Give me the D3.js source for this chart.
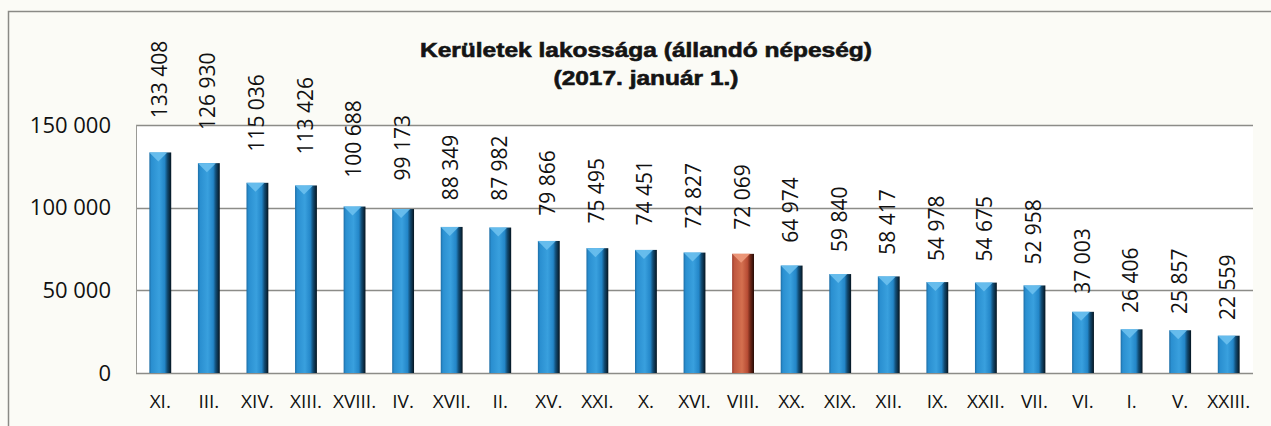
<!DOCTYPE html>
<html>
<head>
<meta charset="utf-8">
<script src="https://cdn.jsdelivr.net/npm/d3@7"></script>
<style>
  html, body { margin: 0; padding: 0; background: #fbfbf6; }
  svg { display: block; }
</style>
</head>
<body>
<svg id="chart" width="1271" height="426"></svg>
<script>
const categories = ["XI.","III.","XIV.","XIII.","XVIII.","IV.","XVII.","II.","XV.","XXI.","X.","XVI.","VIII.","XX.","XIX.","XII.","IX.","XXII.","VII.","VI.","I.","V.","XXIII."];
const values = [133408,126930,115036,113426,100688,99173,88349,87982,79866,75495,74451,72827,72069,64974,59840,58417,54978,54675,52958,37003,26406,25857,22559];
const highlighted = ["VIII."];
const yTicks = [0, 50000, 100000, 150000];
const titleLines = ["Kerületek lakossága (állandó népeség)", "(2017. január 1.)"];

const data = categories.map((c, i) => ({ cat: c, value: values[i] }));

const svg = d3.select("#chart");
const W = 1271, H = 426;
const plot = { left: 136, right: 1253, top: 125, bottom: 373 };

// page background & frame
svg.append("rect").attr("x", 0).attr("y", 0).attr("width", W).attr("height", H).attr("fill", "#fbfbf6");
svg.append("path")
  .attr("d", `M8.5,${H} L8.5,11.5 L${W},11.5`)
  .attr("fill", "none").attr("stroke", "#8a8a86").attr("stroke-width", 1.5);

// plot area
svg.append("rect")
  .attr("x", plot.left).attr("y", plot.top)
  .attr("width", plot.right - plot.left).attr("height", plot.bottom - plot.top)
  .attr("fill", "#ffffff");

const x = d3.scaleBand().domain(categories).range([plot.left, plot.right]).paddingInner(0.55).paddingOuter(0.275);
const y = d3.scaleLinear().domain([0, 150000]).range([plot.bottom, plot.top]);
// labels sit above the bars on a slightly stretched (3D-like) scale
const yLabel = d3.scaleLinear().domain([0, 150000]).range([plot.bottom - 12, plot.top - 37]);

const fmt = v => d3.format(",")(v).replace(/,/g, " ");

// gradients
const defs = svg.append("defs");
function grad(id, stops) {
  const g = defs.append("linearGradient").attr("id", id).attr("x1", "0%").attr("x2", "100%").attr("y1", "0%").attr("y2", "0%");
  stops.forEach(s => g.append("stop").attr("offset", s[0]).attr("stop-color", s[1]));
}
grad("gBlue", [["0%", "#1c6da6"], ["10%", "#2a8fd0"], ["45%", "#39a0de"], ["70%", "#2386c8"], ["82%", "#124c74"], ["100%", "#05141f"]]);
grad("gRed", [["0%", "#9c3a2a"], ["10%", "#c05840"], ["45%", "#d4704f"], ["70%", "#b84d35"], ["82%", "#742a1a"], ["100%", "#240a05"]]);

// gridlines
svg.append("g").selectAll("line").data(yTicks).join("line")
  .attr("x1", plot.left).attr("x2", plot.right)
  .attr("y1", d => Math.round(y(d)) + 0.5).attr("y2", d => Math.round(y(d)) + 0.5)
  .attr("stroke", "#8c8c88").attr("stroke-width", 1.5);
// left axis line
svg.append("line").attr("x1", plot.left + 0.5).attr("x2", plot.left + 0.5)
  .attr("y1", plot.top).attr("y2", plot.bottom)
  .attr("stroke", "#9a9a96").attr("stroke-width", 1);

// bars
const bars = svg.append("g").selectAll("g").data(data).join("g");
bars.append("rect")
  .attr("x", d => x(d.cat)).attr("y", d => y(d.value))
  .attr("width", x.bandwidth()).attr("height", d => y(0) - y(d.value))
  .attr("fill", d => highlighted.includes(d.cat) ? "url(#gRed)" : "url(#gBlue)");
bars.append("path")
  .attr("d", d => {
    const x0 = x(d.cat), w = x.bandwidth(), t = y(d.value);
    return `M${x0},${t} L${x0 + 0.82 * w},${t} L${x0 + 0.41 * w},${t + 9} Z`;
  })
  .attr("fill", d => highlighted.includes(d.cat) ? "#ee9a7c" : "#6cc0ee")
  .attr("opacity", 0.9);

// value labels
svg.append("g").selectAll("text").data(data).join("text")
  .attr("transform", d => `translate(${x(d.cat) + x.bandwidth() / 2 - 1},${yLabel(d.value)}) rotate(-90)`)
  .attr("dy", "0.36em")
  .attr("text-anchor", "start")
  .attr("font-family", "'Open Sans', sans-serif")
  .attr("font-size", 21)
  .attr("fill", "#111")
  .text(d => fmt(d.value));

// y axis
const yAxis = svg.append("g").attr("transform", `translate(${plot.left},0)`)
  .call(d3.axisLeft(y).tickValues(yTicks).tickSize(0).tickPadding(25).tickFormat(fmt));
yAxis.select(".domain").remove();
yAxis.selectAll("text").attr("font-family", "'Open Sans', sans-serif").attr("font-size", 22).attr("fill", "#111");

// x axis
const xAxis = svg.append("g").attr("transform", `translate(0,${plot.bottom})`)
  .call(d3.axisBottom(x).tickSize(0).tickPadding(22));
xAxis.select(".domain").remove();
xAxis.selectAll("text").attr("font-family", "'Open Sans', sans-serif").attr("font-size", 19).attr("fill", "#111");

// title
const titleWidths = [452, 185];
svg.append("g").selectAll("text").data(titleLines).join("text")
  .attr("x", 646).attr("y", (d, i) => 57 + i * 28)
  .attr("text-anchor", "middle")
  .attr("font-family", "'Liberation Sans', Arial, sans-serif")
  .attr("font-weight", "bold")
  .attr("font-size", 20)
  .attr("fill", "#141414")
  .attr("stroke", "#141414").attr("stroke-width", 0.6)
  .attr("textLength", (d, i) => titleWidths[i])
  .attr("lengthAdjust", "spacingAndGlyphs")
  .text(d => d);
</script>
</body>
</html>
